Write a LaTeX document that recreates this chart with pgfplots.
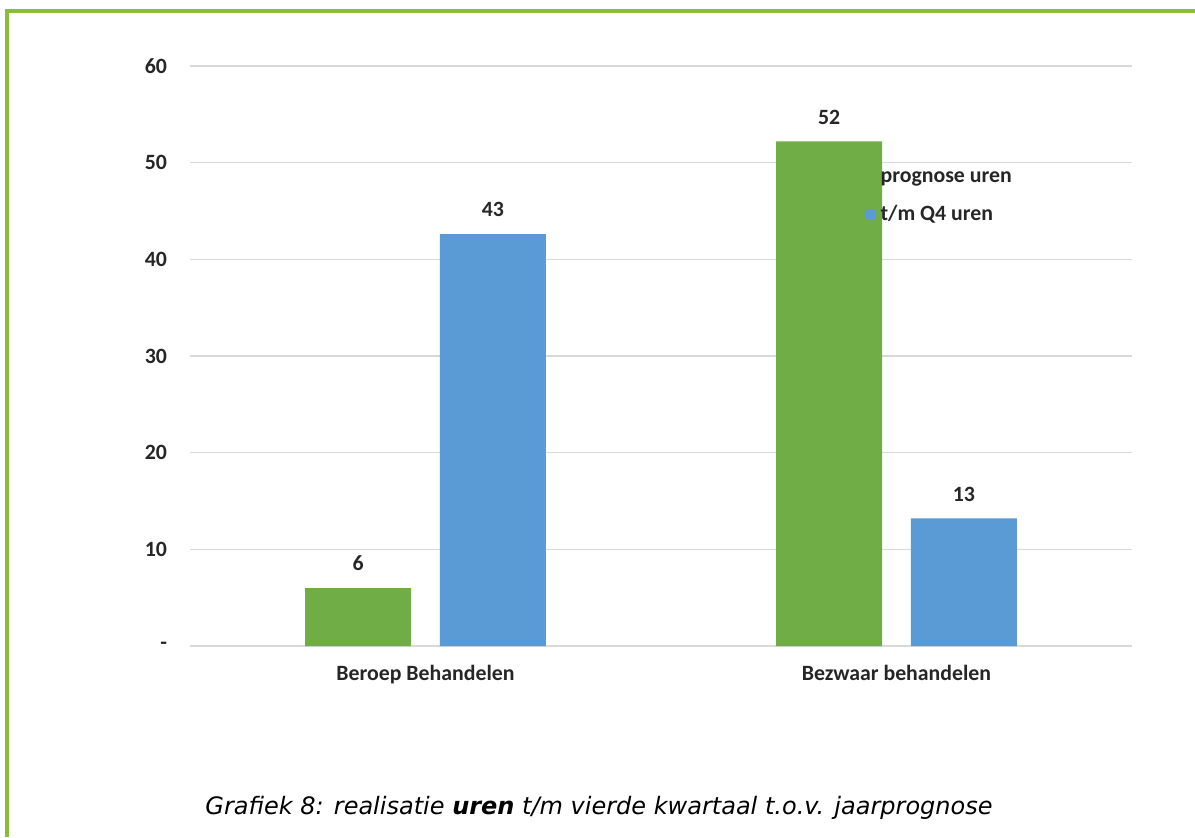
\documentclass[border=0pt]{standalone}
\usepackage{pgfplots}
\pgfplotsset{compat=1.18}
\usepackage{fontspec}
\setmainfont{Carlito}
\newfontfamily\capfont{DejaVu Sans}

\definecolor{framegreen}{HTML}{8BBE38}
\definecolor{bargreen}{HTML}{70AD47}
\definecolor{barblue}{HTML}{5B9BD5}
\definecolor{gridgray}{HTML}{D9D9D9}
\definecolor{txt}{HTML}{262626}

\begin{document}
\begin{tikzpicture}
% picture size: 1195 x 837 px at 0.5pt per px
\path[use as bounding box] (0,0) rectangle (597.5pt,418.5pt);
\fill[white] (0,0) rectangle (597.5pt,418.5pt);
\draw[framegreen, line width=2pt] (3.5pt,0) -- (3.5pt,413pt) -- (597.5pt,413pt);

\begin{axis}[
    at={(95pt,95.5pt)}, anchor=south west,
    scale only axis,
    width=471pt, height=290pt,
    xmin=-0.5, xmax=1.5,
    ymin=0, ymax=60,
    xtick={0,1},
    xticklabels={Beroep Behandelen, Bezwaar behandelen},
    ytick={0,10,20,30,40,50,60},
    yticklabels={-,10,20,30,40,50,60},
    axis line style={draw=none},
    major tick length=0pt,
    ymajorgrids,
    grid style={gridgray, line width=0.8pt},
    tick label style={font=\fontsize{10.9}{12}\selectfont\bfseries, text=txt},
    yticklabel style={xshift=-8pt},
    xticklabel style={yshift=-6pt},
    /pgf/number format/assume math mode=true,
    ybar, bar width=0.225,
    nodes near coords={\pgfmathprintnumber[fixed,precision=0]{\pgfplotspointmeta}},
    nodes near coords style={font=\fontsize{10.9}{12}\selectfont\bfseries, text=txt, anchor=south, yshift=5pt},
    legend style={at={(0.717,0.826)}, anchor=north west, draw=none, fill=none,
        font=\fontsize{10.9}{12}\selectfont\bfseries, text=txt,
        row sep=6pt, inner sep=0pt},
    legend cell align=left,
]
\addplot[fill=bargreen, draw=none, bar shift=-0.143,
    legend image code/.code={\fill[bargreen] (0pt,-2.2pt) rectangle (4.4pt,2.2pt); \path (5.4pt,0pt);}]
    coordinates {(0,6) (1,52.2)};
\addplot[fill=barblue, draw=none, bar shift=0.143,
    legend image code/.code={\fill[barblue] (0pt,-2.2pt) rectangle (4.4pt,2.2pt); \path (5.4pt,0pt);}]
    coordinates {(0,42.6) (1,13.2)};
\legend{prognose uren, t/m Q4 uren}
\end{axis}

\node[font=\capfont\itshape\fontsize{12}{14}\selectfont, text=black, anchor=center]
    at (299.5pt,14.5pt) {Grafiek 8: realisatie \textbf{uren} t/m vierde kwartaal t.o.v. jaarprognose};
\end{tikzpicture}
\end{document}
